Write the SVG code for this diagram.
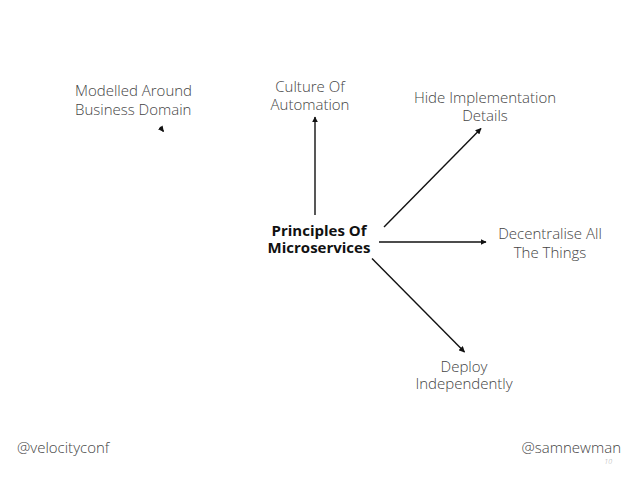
<svg xmlns="http://www.w3.org/2000/svg" width="638" height="479" viewBox="0 0 638 479">
<style>
text{font-family:"Open Sans","DejaVu Sans",sans-serif;}
.lbl{font-size:15px;font-weight:300;fill:#444;text-anchor:middle;}
.lft{font-size:15px;font-weight:300;fill:#444;}
.main{font-size:15px;font-weight:700;fill:#111;text-anchor:middle;}
.foot{font-size:15px;font-weight:300;fill:#444;}
.edge{stroke:#111;stroke-width:1.4;fill:none;marker-end:url(#ah);}
</style>
<defs>
<marker id="ah" viewBox="0 0 10 10" refX="9" refY="5" markerWidth="6" markerHeight="6" markerUnits="userSpaceOnUse" orient="auto">
<path d="M0,0L10,5L0,10z" fill="#111"/>
</marker>
</defs>
<rect width="638" height="479" fill="#fff"/>
<g id="connectors">
<line class="edge" x1="160" y1="127" x2="163.5" y2="131.5"/>
<line class="edge" x1="315" y1="215" x2="315" y2="117"/>
<line class="edge" x1="384" y1="227" x2="481" y2="128.5"/>
<line class="edge" x1="379" y1="242" x2="486" y2="242"/>
<line class="edge" x1="372" y1="258.5" x2="464.5" y2="352"/>
</g>
<g id="center">
<text class="main" x="319" y="236">Principles Of</text>
<text class="main" x="319" y="253">Microservices</text>
</g>
<g id="modelled">
<text class="lft" x="75" y="96">Modelled Around</text>
<text class="lft" x="75" y="115">Business Domain</text>
</g>
<g id="culture">
<text class="lbl" x="310" y="92">Culture Of</text>
<text class="lbl" x="310" y="110">Automation</text>
</g>
<g id="hide">
<text class="lbl" x="485" y="103">Hide Implementation</text>
<text class="lbl" x="485" y="121">Details</text>
</g>
<g id="decentralise">
<text class="lbl" x="550" y="239">Decentralise All</text>
<text class="lbl" x="550" y="258">The Things</text>
</g>
<g id="deploy">
<text class="lbl" x="464" y="372">Deploy</text>
<text class="lbl" x="464" y="389">Independently</text>
</g>
<g id="footer">
<text class="foot" x="17" y="453">@velocityconf</text>
<text class="foot" x="621" y="453" text-anchor="end">@samnewman</text>
<text x="612" y="464" font-size="7" fill="#aaa" font-weight="300" text-anchor="end" font-style="italic">10</text>
</g>
</svg>
